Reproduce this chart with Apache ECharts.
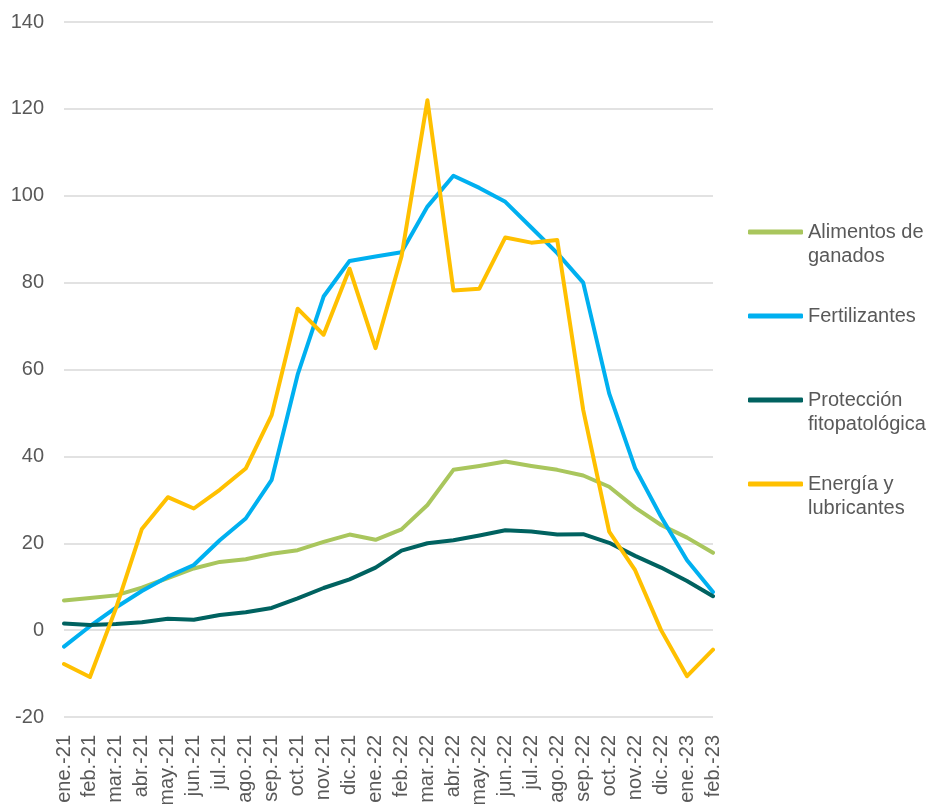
<!DOCTYPE html>
<html><head><meta charset="utf-8">
<script src="https://cdn.jsdelivr.net/npm/echarts@6/dist/echarts.min.js"></script>
<style>html,body{margin:0;padding:0;background:#fff}#c{width:936px;height:804px}</style>
</head><body><div id="c"></div>
<script>
const categories = ['ene.-21','feb.-21','mar.-21','abr.-21','may.-21','jun.-21','jul.-21','ago.-21','sep.-21','oct.-21','nov.-21','dic.-21','ene.-22','feb.-22','mar.-22','abr.-22','may.-22','jun.-22','jul.-22','ago.-22','sep.-22','oct.-22','nov.-22','dic.-22','ene.-23','feb.-23'];
const alimentos = [6.8,7.4,8.0,9.8,12.0,14.2,15.7,16.3,17.6,18.4,20.3,22.0,20.8,23.2,28.8,36.9,37.8,38.8,37.8,36.9,35.6,33.0,28.2,24.2,21.3,17.8];
const fertilizantes = [-3.8,0.9,5.2,9.0,12.3,15.0,20.7,25.7,34.6,58.8,76.8,85.0,86.0,87.0,97.5,104.6,101.8,98.6,92.7,86.8,80.0,54.5,37.3,26.1,16.1,8.8];
const proteccion = [1.5,1.2,1.4,1.8,2.6,2.4,3.5,4.1,5.1,7.3,9.7,11.7,14.4,18.3,20.0,20.7,21.8,23.0,22.7,22.0,22.1,20.1,17.1,14.4,11.3,7.8];
const energia = [-7.8,-10.8,5.0,23.3,30.6,28.0,32.3,37.2,49.5,74.0,68.0,83.2,64.9,86.0,122.0,78.2,78.6,90.4,89.2,89.8,50.7,22.7,13.8,0.0,-10.6,-4.5];
const seriesNames = ['Alimentos de ganados','Fertilizantes','Protección fitopatológica','Energía y lubricantes'];
const legendLabels = [' \nAlimentos de\nganados',' \nFertilizantes\n ',' \nProtección\nfitopatológica',' \nEnergía y\nlubricantes'];
const yTicks = {min:-20, max:140, interval:20};
const colors = ['#A9C65D','#00B0F0','#006260','#FFC000'];
const dataSets = [alimentos, fertilizantes, proteccion, energia];

const chart = echarts.init(document.getElementById('c'), null, {renderer:'canvas'});
const font = '"Liberation Sans", Arial, sans-serif';
chart.setOption({
  animation:false,
  color:colors,
  grid:{left:64,right:223,top:22,bottom:87,containLabel:false,outerBoundsMode:'none'},
  legend:{
    orient:'vertical', left:748, top:196, padding:0, itemWidth:55, itemHeight:5, itemGap:12,
    icon:'roundRect',
    data:seriesNames,
    formatter:function(n){return legendLabels[seriesNames.indexOf(n)];},
    textStyle:{fontFamily:font,fontSize:20,color:'#595959',lineHeight:24}
  },
  xAxis:{
    type:'category', data:categories, boundaryGap:false,
    axisLine:{show:false}, axisTick:{show:false},
    axisLabel:{rotate:90, interval:0, margin:18, fontFamily:font, fontSize:20, color:'#595959'}
  },
  yAxis:{
    type:'value', min:yTicks.min, max:yTicks.max, interval:yTicks.interval,
    axisLine:{show:false}, axisTick:{show:false},
    axisLabel:{margin:20, fontFamily:font, fontSize:20, color:'#595959'},
    splitLine:{lineStyle:{color:'#D9D9D9',width:1.5}}
  },
  series:seriesNames.map((n,i)=>({
    name:n, type:'line', data:dataSets[i], symbol:'none', smooth:false,
    lineStyle:{width:4, color:colors[i], cap:'round', join:'round'}, itemStyle:{color:colors[i]}
  }))
});
</script></body></html>
